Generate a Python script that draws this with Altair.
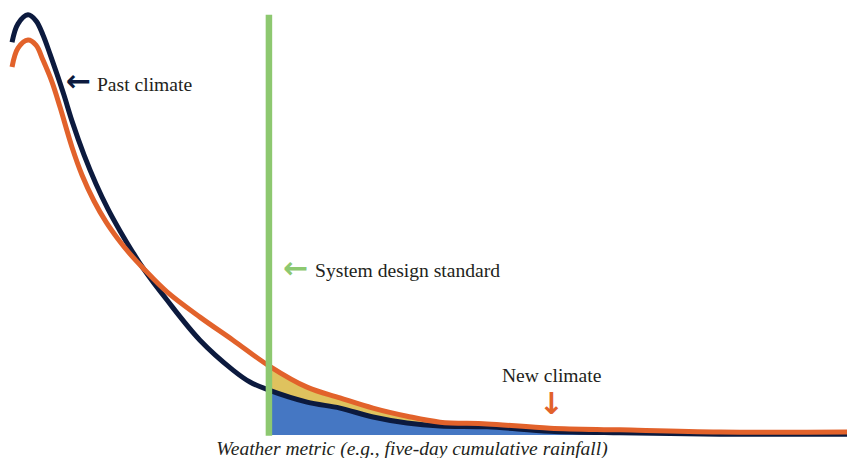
import altair as alt
import pandas as pd

# Past climate (navy) curve
PAST_X = [0.48, 1.19, 2.38, 3.34, 4.17, 5.01, 5.84, 6.67, 7.63, 9.06, 10.49, 11.92,
          13.35, 14.78, 16.09, 18.95, 22.88, 26.82, 28.84, 31.1, 35.64, 39.57, 43.50,
          47.56, 51.49, 57.09, 64.60, 72.94, 84.86, 100.0]
PAST_Y = [92.0, 96.3, 98.4, 97.0, 93.7, 89.2, 84.5, 79.6, 73.5, 65.6, 58.8, 52.9,
          47.8, 43.1, 39.1, 31.6, 22.2, 15.2, 12.4, 10.5, 7.7, 6.3, 4.2,
          2.8, 2.1, 1.9, 0.9, 0.5, 0.2, 0.2]

# New climate (orange) curve
NEW_X = [0.48, 1.19, 2.38, 3.34, 4.17, 5.24, 6.20, 7.63, 8.82, 10.25, 11.68, 13.11,
         14.54, 16.09, 18.95, 22.88, 26.82, 31.1, 35.64, 39.57, 43.50, 47.56, 51.49,
         57.09, 64.60, 72.94, 84.86, 100.0]
NEW_Y = [86.2, 90.6, 92.5, 91.3, 87.8, 82.7, 76.8, 67.4, 60.9, 54.8, 49.9, 45.9,
         42.4, 39.1, 33.5, 27.6, 22.2, 16.2, 11.2, 8.7, 6.3, 4.4, 3.0,
         2.6, 1.6, 1.2, 0.7, 0.7]

DESIGN_STANDARD = 31.1
LINE_TOP = 98.4

NAVY = "#0c1a3e"
ORANGE = "#e2622b"
GREEN = "#8dc870"
BLUE = "#4577c3"
YELLOW = "#dfc25e"
SERIF = "Liberation Serif"
INTERP = "catmull-rom"

past = pd.DataFrame({"x": PAST_X, "y": PAST_Y})
new = pd.DataFrame({"x": NEW_X, "y": NEW_Y})

right = pd.merge(past[past.x >= DESIGN_STANDARD], new[new.x >= DESIGN_STANDARD],
                 on="x", suffixes=("_past", "_new"))

xs = alt.Scale(domain=[0, 100])
ys = alt.Scale(domain=[-5.39, 100])
X = alt.X("x:Q", scale=xs, axis=None)

blue = alt.Chart(right).mark_area(color=BLUE, interpolate=INTERP, opacity=1).encode(
    x=X, y=alt.Y("y_past:Q", scale=ys, axis=None), y2=alt.Y2(datum=0))
yellow = alt.Chart(right).mark_area(color=YELLOW, interpolate=INTERP, opacity=1).encode(
    x=X, y=alt.Y("y_past:Q", scale=ys, axis=None), y2="y_new:Q")

past_line = alt.Chart(past).mark_line(color=NAVY, strokeWidth=5, interpolate=INTERP).encode(
    x=X, y=alt.Y("y:Q", scale=ys, axis=None))
new_line = alt.Chart(new).mark_line(color=ORANGE, strokeWidth=5, interpolate=INTERP).encode(
    x=X, y=alt.Y("y:Q", scale=ys, axis=None))

green = alt.Chart(pd.DataFrame({"x": [DESIGN_STANDARD], "y": [LINE_TOP], "y2": [-0.2]})).mark_rule(
    color=GREEN, strokeWidth=6.5).encode(x=X, y=alt.Y("y:Q", scale=ys, axis=None), y2="y2:Q")

labels = pd.DataFrame({
    "x": [10.6, 36.6],
    "y": [80.6, 37.0],
    "t": ["Past climate", "System design standard"],
})
label_marks = alt.Chart(labels).mark_text(
    font=SERIF, fontSize=19.6, color="#231f20", align="left", baseline="alphabetic").encode(
    x=X, y=alt.Y("y:Q", scale=ys, axis=None), text="t:N")

new_label = alt.Chart(pd.DataFrame({"x": [64.8], "y": [12.4], "t": ["New climate"]})).mark_text(
    font=SERIF, fontSize=19.6, color="#231f20", align="center", baseline="alphabetic").encode(
    x=X, y=alt.Y("y:Q", scale=ys, axis=None), text="t:N")

arrows = pd.DataFrame({
    "x": [8.4, 34.3, 64.75],
    "y": [82.7, 38.9, 7.0],
    "t": ["←", "←", "↓"],
    "c": [NAVY, GREEN, ORANGE],
})
arrow_marks = alt.Chart(arrows).mark_text(
    font="DejaVu Sans", fontSize=30, fontWeight="bold", align="center", baseline="middle").encode(
    x=X, y=alt.Y("y:Q", scale=ys, axis=None), text="t:N",
    color=alt.Color("c:N", scale=None))

title = alt.Chart(pd.DataFrame({"x": [48.15], "y": [-4.68],
                                "t": ["Weather metric (e.g., five-day cumulative rainfall)"]})).mark_text(
    font=SERIF, fontSize=19.5, fontStyle="italic", color="#231f20", align="center",
    baseline="alphabetic").encode(x=X, y=alt.Y("y:Q", scale=ys, axis=None), text="t:N")

chart = alt.layer(blue, yellow, past_line, new_line, green, label_marks, new_label,
                  arrow_marks, title).properties(
    width=839, height=450, padding=0,
    autosize=alt.AutoSizeParams(type="none"),
).configure_view(stroke=None)

chart.save("out.html", embed_options={"renderer": "svg", "actions": False})
